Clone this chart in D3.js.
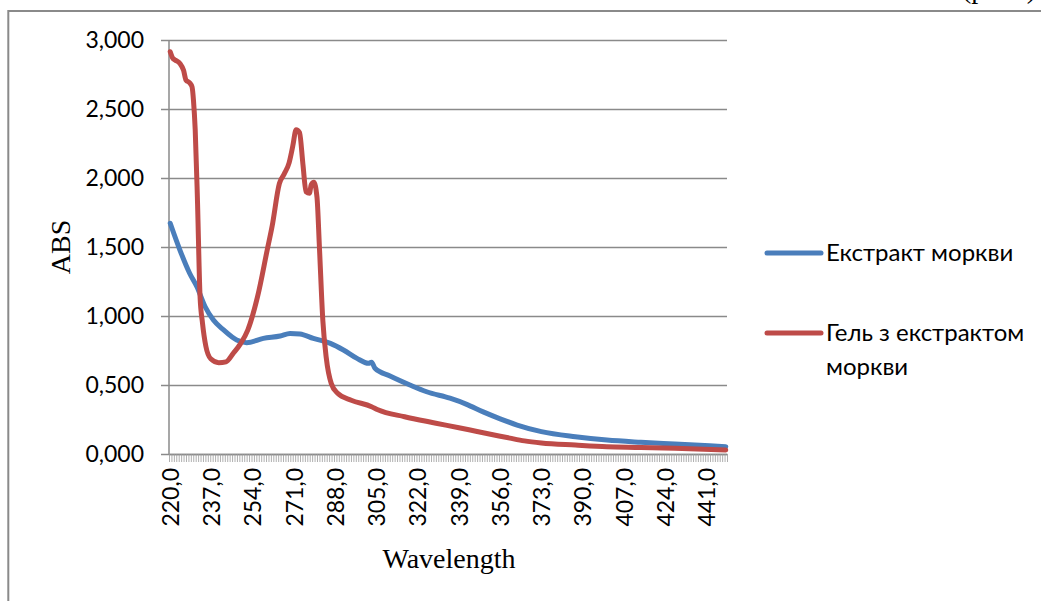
<!DOCTYPE html>
<html>
<head>
<meta charset="utf-8">
<script src="https://cdn.jsdelivr.net/npm/d3@7"></script>
<style>
  body { margin: 0; background: #fff; }
  text { fill: #000; }
</style>
</head>
<body>
<div id="chart"></div>
<script>
// wavelength (nm) / absorbance
const extractNm  = [220, 224, 228, 231, 234.4, 237.8, 242, 247.4, 251.5, 258.4, 265.3, 269.4, 273.5, 279, 286, 291.4, 297, 301.7, 303, 304.4, 310.6, 318.8, 325.7, 335.3, 342.2, 349, 356, 363, 373, 387, 400, 414, 428, 449];
const extractAbs = [1.672, 1.478, 1.31, 1.212, 1.067, 0.971, 0.899, 0.826, 0.807, 0.838, 0.855, 0.874, 0.87, 0.838, 0.802, 0.754, 0.693, 0.657, 0.665, 0.621, 0.565, 0.50, 0.451, 0.404, 0.36, 0.305, 0.255, 0.21, 0.162, 0.125, 0.101, 0.085, 0.072, 0.053];

const gelNm  = [220, 221, 222, 224, 225.5, 226.5, 228, 229, 229.6, 230.3, 231.2, 232.3, 233.3, 234.7, 236.7, 240, 243, 246, 249, 252, 256, 260, 262, 265, 267, 269, 270.5, 271.9, 273.3, 274.7, 276, 277.4, 278.1, 279.2, 280.5, 281.5, 282.9, 284.3, 286.4, 289, 294.6, 303, 305.6, 316.6, 329, 339, 346, 353, 360, 366, 373, 387, 400, 414, 428, 449];
const gelAbs = [2.915, 2.87, 2.855, 2.83, 2.78, 2.71, 2.69, 2.66, 2.56, 2.35, 1.86, 1.14, 0.95, 0.78, 0.69, 0.662, 0.668, 0.73, 0.80, 0.90, 1.14, 1.48, 1.65, 1.96, 2.03, 2.11, 2.23, 2.35, 2.33, 2.10, 1.90, 1.89, 1.95, 1.97, 1.86, 1.50, 0.97, 0.70, 0.51, 0.44, 0.39, 0.343, 0.32, 0.27, 0.225, 0.19, 0.165, 0.14, 0.115, 0.095, 0.08, 0.065, 0.053, 0.048, 0.041, 0.029];

const firstNm = 220, lastNm = 449;
const yTicks = [0, 0.5, 1, 1.5, 2, 2.5, 3];
const xLabels = [220, 237, 254, 271, 288, 305, 322, 339, 356, 373, 390, 407, 424, 441];
const seriesNames = [["Екстракт моркви"], ["Гель з екстрактом", "моркви"]];
const colors = ["#4A7EBB", "#BE4B48"];

const width = 1041, height = 601;
const margin = { top: 40, right: 314, bottom: 147, left: 169 };
const w = width - margin.left - margin.right;
const h = height - margin.top - margin.bottom;

const svg = d3.select('#chart').append('svg').attr('width', width).attr('height', height);

// page bits: frame and the cut-off line of text above it
svg.append('rect').attr('x', 8.3).attr('y', 11).attr('width', 1200).attr('height', 800)
  .attr('fill', 'none').attr('stroke', '#8a8a8a').attr('stroke-width', 2);
svg.append('text').attr('x', 1036).attr('y', -2).attr('text-anchor', 'end')
  .style('font-family', 'Liberation Serif').style('font-size', '28px').text('(рис. )');

const g = svg.append('g').attr('transform', `translate(${margin.left},${margin.top})`);

const x = d3.scaleLinear().domain([firstNm - 0.5, lastNm + 0.5]).range([0, w]);
const y = d3.scaleLinear().domain([0, 3]).range([h, 0]);

const fmt = d => d.toFixed(3).replace('.', ',');
const fmtX = d => d.toFixed(1).replace('.', ',');

// y gridlines + labels
const yAx = g.append('g').call(d3.axisLeft(y).tickValues(yTicks).tickSize(8).tickPadding(17).tickFormat(fmt));
yAx.select('.domain').remove();
yAx.selectAll('line').attr('x2', w).attr('x1', -8).attr('stroke', '#8a8a8a').attr('stroke-width', 1.5);
yAx.selectAll('text').style('font-family', 'Lato').style('font-size', '23px');

// category tick marks
const xTickAx = g.append('g').attr('transform', `translate(0,${h})`)
  .call(d3.axisBottom(x).tickValues(d3.range(firstNm - 0.5, lastNm + 1, 1)).tickSize(8).tickSizeOuter(0).tickFormat(''));
xTickAx.selectAll('line').attr('stroke', '#9a9a9a').attr('stroke-width', 0.8);
xTickAx.select('.domain').attr('stroke', '#8a8a8a').attr('stroke-width', 1.5);

// x labels, rotated
const xLab = g.append('g').attr('transform', `translate(0,${h})`)
  .call(d3.axisBottom(x).tickValues(xLabels).tickSize(0).tickFormat(fmtX));
xLab.select('.domain').remove();
xLab.selectAll('text')
  .attr('transform', 'rotate(-90)').attr('x', -14).attr('y', 0).attr('dy', '0.36em')
  .style('text-anchor', 'end').style('font-family', 'Lato').style('font-size', '23px');

// y axis line
g.append('line').attr('x1', 0).attr('x2', 0).attr('y1', 0).attr('y2', h)
  .attr('stroke', '#8a8a8a').attr('stroke-width', 1.5);

// lines
const line = d3.line().x(d => x(d[0])).y(d => y(d[1])).curve(d3.curveMonotoneX);
const series = [d3.zip(extractNm, extractAbs), d3.zip(gelNm, gelAbs)];
series.forEach((s, i) => {
  g.append('path').datum(s).attr('d', line).attr('fill', 'none')
    .attr('stroke', colors[i]).attr('stroke-width', 5)
    .attr('stroke-linejoin', 'round').attr('stroke-linecap', 'round');
});

// axis titles
svg.append('text').attr('transform', 'translate(70,247) rotate(-90)').attr('text-anchor', 'middle')
  .style('font-family', 'Liberation Serif').style('font-size', '28px').text('ABS');
svg.append('text').attr('x', 449).attr('y', 568).attr('text-anchor', 'middle')
  .style('font-family', 'Liberation Serif').style('font-size', '28px').text('Wavelength');

// legend
const legY = [253, 333];
seriesNames.forEach((lines, i) => {
  const lg = svg.append('g').attr('transform', `translate(767,${legY[i]})`);
  lg.append('line').attr('x1', 0).attr('x2', 54).attr('stroke', colors[i])
    .attr('stroke-width', 5).attr('stroke-linecap', 'round');
  lg.append('text').attr('x', 59).attr('y', 8)
    .style('font-family', 'Lato').style('font-size', '24px')
    .selectAll('tspan').data(lines).enter().append('tspan')
    .attr('x', 59).attr('dy', (d, j) => j === 0 ? 0 : 34).text(d => d);
});
</script>
</body>
</html>
